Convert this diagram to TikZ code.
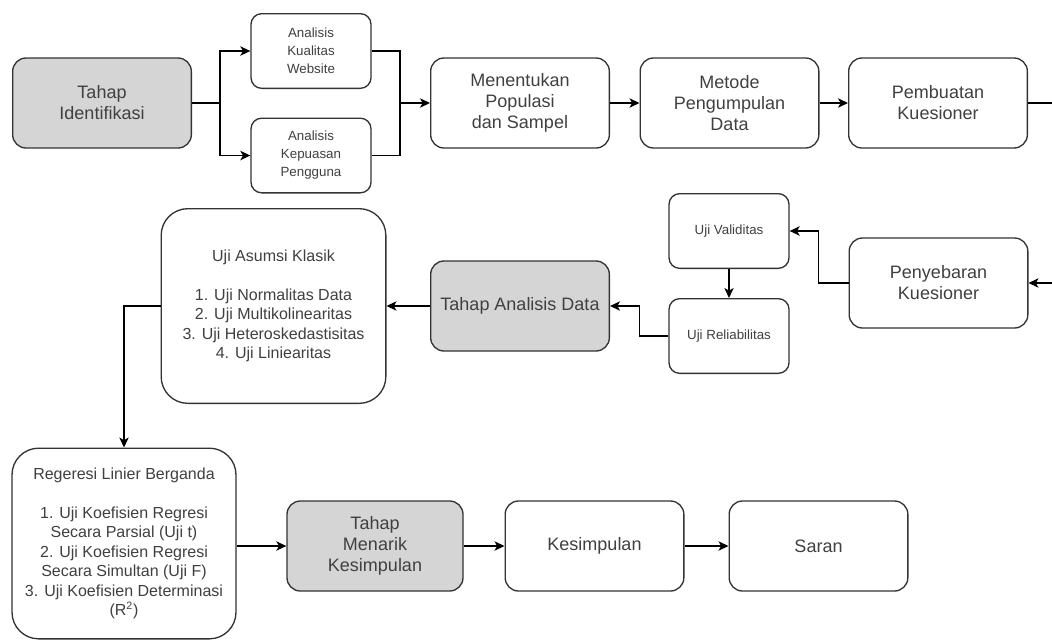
\documentclass[tikz,border=0pt]{standalone}
\usepackage{fontspec}
\setsansfont{Liberation Sans}
\usetikzlibrary{arrows.meta, positioning}
\definecolor{cline}{HTML}{333333}
\definecolor{cgrey}{HTML}{D5D5D5}
\definecolor{ctext}{HTML}{404040}
\tikzset{
  every picture/.style={font=\sffamily, line width=1pt},
  box/.style={draw=cline, fill=#1, rounded corners=10pt, align=center, inner sep=2pt, text=ctext,
    font=\sffamily\fontsize{13.5}{15.75}\selectfont},
  box/.default=white,
  arrow/.style={-{Stealth[length=7.5pt, width=7pt, inset=2pt]}, draw=black},
  link/.style={draw=black},
  smalltxt/.style={font=\sffamily\fontsize{10}{13.5}\selectfont},
  listtxt/.style={font=\sffamily\fontsize{12}{14.6}\selectfont},
}

\begin{document}
\begin{tikzpicture}[x=0.75pt, y=-0.75pt,
  st/.style={box=#1, minimum width=134pt, minimum height=67.5pt}, st/.default=white,
  sm/.style={box, smalltxt, rounded corners=8pt, minimum width=90pt, minimum height=56pt},
  tall/.style={box, listtxt, rounded corners=20pt, minimum width=168.5pt, minimum height=146pt}]
  \useasboundingbox (0,0) rectangle (1052,640);
  \clip (0,0) rectangle (1052,640);
  \node[st=cgrey] (ident) at (102,103) {Tahap\\Identifikasi};
  \node[sm] (kual) at (311,51) {Analisis\\Kualitas\\Website};
  \node[sm] (puas) at (311,155.5) {Analisis\\Kepuasan\\Pengguna};
  \coordinate (merge) at (400,103);
  \node[st] (populasi) at (520,103) {Menentukan\\Populasi\\dan Sampel};
  \node[st] (metode) at (729.5,103) {Metode\\Pengumpulan\\Data};
  \node[st] (buat) at (938,103) {Pembuatan\\Kuesioner};
  \node[st] (sebar) at (938.5,283) {Penyebaran\\Kuesioner};
  \node[sm] (valid) at (729,231) {Uji Validitas};
  \node[sm] (reliab) at (729,336) {Uji Reliabilitas};
  \node[st=cgrey] (analisis) at (520,306) {Tahap Analisis Data};
  \node[tall] (asumsi) at (273.5,306) {Uji Asumsi Klasik\\[14.6pt]1. Uji Normalitas Data\\2. Uji Multikolinearitas\\
    3. Uji Heteroskedastisitas\\4. Uji Liniearitas};
  \node[tall, minimum width=168pt, minimum height=143pt] (regresi) at (124,543.5) {Regeresi Linier Berganda\\[14.6pt]
    1. Uji Koefisien Regresi\\Secara Parsial (Uji t)\\2. Uji Koefisien Regresi\\Secara Simultan (Uji F)\\
    3. Uji Koefisien Determinasi\\(R\textsuperscript{2})};
  \node[st=cgrey, minimum width=132pt] (menarik) at (375,546) {Tahap\\Menarik\\Kesimpulan};
  \node[st] (simpul) at (594.5,546) {Kesimpulan};
  \node[st] (saran) at (818.5,546) {Saran};
  \draw[arrow] (ident.east) -- ++(28,0) |- (kual.west);
  \draw[arrow] (ident.east) -- ++(28,0) |- (puas.west);
  \draw[link] (kual.east) -| (merge); \draw[link] (puas.east) -| (merge);
  \draw[arrow] (merge) -- (populasi);
  \draw[arrow] (populasi) -- (metode); \draw[arrow] (metode) -- (buat);
  \draw[arrow] (buat.east) -- ++(60,0) |- (sebar.east);
  \draw[arrow] (sebar.west) -- ++(-30,0) |- (valid.east);
  \draw[arrow] (valid) -- (reliab);
  \draw[arrow] (reliab.west) -- ++(-29,0) |- (analisis.east);
  \draw[arrow] (analisis) -- (asumsi);
  \draw[arrow] (asumsi.west) -| (regresi.north);
  \draw[arrow] (regresi.east |- menarik.west) -- (menarik.west);
  \draw[arrow] (menarik) -- (simpul); \draw[arrow] (simpul) -- (saran);
\end{tikzpicture}
\end{document}
